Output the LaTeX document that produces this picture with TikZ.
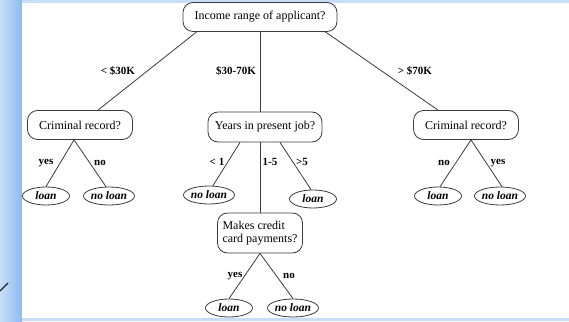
\documentclass[tikz,border=0pt]{standalone}
\usepackage{fontspec}
\setmainfont{Liberation Serif}
\usetikzlibrary{shapes.geometric}
\definecolor{stripblue}{RGB}{140,186,240}
\definecolor{paleblue}{RGB}{200,222,248}
\definecolor{inkgray}{RGB}{60,60,60}
\tikzset{
  qbox/.style={draw=inkgray, line width=0.8pt, rounded corners=10pt, align=center,
    font=\fontsize{12}{13}\selectfont, inner sep=0pt},
  leaf/.style={draw=inkgray, line width=0.8pt, ellipse, inner sep=0pt,
    minimum width=47pt, minimum height=18pt, font=\fontsize{11.5}{12}\selectfont\bfseries\itshape},
  branch/.style={draw=inkgray, line width=0.8pt},
  elabel/.style={font=\fontsize{11}{12}\selectfont\bfseries, inner sep=0pt}
}
\begin{document}
\begin{tikzpicture}[x=1pt,y=-1pt]
% page frame and background
\useasboundingbox (0,0) rectangle (569,321);
\fill[paleblue] (0,0) rectangle (569,321);
\shade[left color=paleblue, right color=stripblue] (0,0) rectangle (22,321);
\fill[white] (22,3) rectangle (569,318);
\draw[line width=1.4pt, black!85, line cap=round] (0,291) -- (4,287) -- (8,283);

% question nodes
\node[qbox, minimum width=154pt, minimum height=29pt] (root) at (260,17) {Income range of applicant?};
\node[qbox, minimum width=105pt, minimum height=29pt] (lc) at (80,125) {Criminal record?};
\node[qbox, minimum width=114pt, minimum height=30pt] (yrs) at (265,127) {Years in present job?};
\node[qbox, minimum width=105pt, minimum height=29pt] (rc) at (466,125) {Criminal record?};
\node[qbox, minimum width=85pt, minimum height=40pt, align=left] (mc) at (260,233) {Makes credit\\card payments?};

% leaves
\node[leaf] (l1) at (46,196) {loan};
\node[leaf] (l2) at (109,196) {no loan};
\node[leaf] (l3) at (209,195) {no loan};
\node[leaf] (l4) at (313,199) {loan};
\node[leaf] (l5) at (438,196) {loan};
\node[leaf] (l6) at (500,196) {no loan};
\node[leaf] (l7) at (229,308) {loan};
\node[leaf] (l8) at (293,308) {no loan};

% branches from the root
\draw[branch] ([xshift=14pt]root.south west) -- ([xshift=18pt]lc.north);
\draw[branch] (root.south) -- (root.south |- yrs.north);
\draw[branch] ([xshift=-12pt]root.south east) -- ([xshift=-28pt]rc.north);
\node[elabel] (t1) at (118,71) {< \$30K};
\node[elabel] (t2) at (236,71) {\$30-70K};
\node[elabel] (t3) at (415,71) {> \$70K};

% left criminal record
\draw[branch] ([xshift=-6pt]lc.south) -- (l1.north);
\draw[branch] ([xshift=-6pt]lc.south) -- ([xshift=-3pt]l2.north);
\node[elabel] (t4) at (46,163) {yes};
\node[elabel] (t5) at (100,163) {no};

% years in present job
\draw[branch] ([xshift=-25pt]yrs.south) -- ([xshift=4pt]l3.north);
\draw[branch] (root.south |- yrs.south) -- (root.south |- mc.north);
\draw[branch] ([xshift=15pt]yrs.south) -- ([xshift=-2pt]l4.north);
\node[elabel] (t6) at (217,162) {< 1};
\node[elabel] (t7) at (270,162) {1-5};
\node[elabel] (t8) at (302,162) {>5};

% right criminal record
\draw[branch] ([xshift=5pt]rc.south) -- ([xshift=2pt]l5.north);
\draw[branch] ([xshift=5pt]rc.south) -- ([xshift=2pt]l6.north);
\node[elabel] (t9) at (444,163) {no};
\node[elabel] (t10) at (498,163) {yes};

% makes credit card payments
\draw[branch] (mc.south) -- (l7.north);
\draw[branch] (mc.south) -- (l8.north);
\node[elabel] (t11) at (235,276) {yes};
\node[elabel] (t12) at (289,276) {no};
\end{tikzpicture}
\end{document}
